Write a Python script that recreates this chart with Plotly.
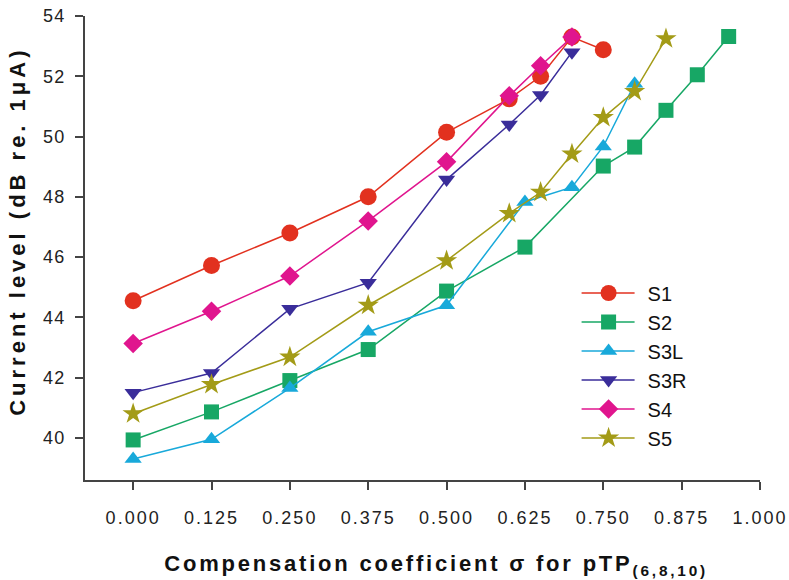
import plotly.graph_objects as go

# ---- data ----
s1_x = [0.0, 0.125, 0.25, 0.375, 0.5, 0.6, 0.65, 0.7, 0.75]
s1_y = [44.55, 45.72, 46.8, 48.0, 50.14, 51.25, 52.0, 53.3, 52.88]

s2_x = [0.0, 0.125, 0.25, 0.375, 0.5, 0.625, 0.75, 0.8, 0.85, 0.9, 0.95]
s2_y = [39.93, 40.86, 41.9, 42.93, 44.87, 46.33, 49.02, 49.65, 50.87, 52.05, 53.32]

s3l_x = [0.0, 0.125, 0.25, 0.375, 0.5, 0.625, 0.7, 0.75, 0.8]
s3l_y = [39.3, 39.95, 41.65, 43.52, 44.4, 47.83, 48.32, 49.67, 51.75]

s3r_x = [0.0, 0.125, 0.25, 0.375, 0.5, 0.6, 0.65, 0.7]
s3r_y = [41.5, 42.15, 44.28, 45.15, 48.57, 50.4, 51.38, 52.8]

s4_x = [0.0, 0.125, 0.25, 0.375, 0.5, 0.6, 0.65, 0.7]
s4_y = [43.13, 44.2, 45.37, 47.2, 49.16, 51.35, 52.35, 53.3]

s5_x = [0.0, 0.125, 0.25, 0.375, 0.5, 0.6, 0.65, 0.7, 0.75, 0.8, 0.85]
s5_y = [40.8, 41.77, 42.68, 44.4, 45.88, 47.45, 48.15, 49.42, 50.63, 51.5, 53.25]

x_ticks = [0.0, 0.125, 0.25, 0.375, 0.5, 0.625, 0.75, 0.875, 1.0]
x_tick_labels = ["0.000", "0.125", "0.250", "0.375", "0.500", "0.625", "0.750", "0.875", "1.000"]
y_ticks = [40, 42, 44, 46, 48, 50, 52, 54]

series = [
    ("S1", s1_x, s1_y, "#E2311F", "circle", 17),
    ("S2", s2_x, s2_y, "#17A765", "square", 15),
    ("S3L", s3l_x, s3l_y, "#18A9DA", "triangle-up", 15),
    ("S3R", s3r_x, s3r_y, "#3A2D9A", "triangle-down", 15),
    ("S4", s4_x, s4_y, "#E0158E", "diamond", 15),
    ("S5", s5_x, s5_y, "#A39B17", "star", 16),
]

FONT = "Arial, Liberation Sans, Helvetica, sans-serif"

fig = go.Figure()
for name, xs, ys, col, sym, sz in series:
    fig.add_trace(go.Scatter(
        x=xs, y=ys, name=name, mode="lines+markers",
        line=dict(color=col, width=1.5),
        marker=dict(symbol=sym, size=sz, color=col, line=dict(width=0)),
        cliponaxis=False,
    ))

fig.update_layout(
    width=789, height=580,
    margin=dict(l=85, r=27, t=6, b=100),
    paper_bgcolor="white", plot_bgcolor="white",
    font=dict(family=FONT, color="#222222", size=18),
    showlegend=True,
    legend=dict(x=0.7179, y=0.445, xanchor="left", yanchor="top",
                font=dict(size=20, color="#111111", family=FONT),
                bgcolor="rgba(0,0,0,0)", itemwidth=68),
    xaxis=dict(range=[-0.0768, 1.0], tickvals=x_ticks, ticktext=x_tick_labels,
               showgrid=False, zeroline=False, showline=True, linecolor="#444444",
               linewidth=2, ticks="outside", ticklen=8, tickwidth=1.5, tickcolor="#444444",
               tickfont=dict(size=18, color="#222222"), ticklabelstandoff=12,
               ticklabeloverflow="allow"),
    yaxis=dict(range=[38.6, 54.0005], tickvals=y_ticks,
               showgrid=False, zeroline=False, showline=True, linecolor="#444444",
               linewidth=2, ticks="outside", ticklen=8, tickwidth=1.5, tickcolor="#444444",
               tickfont=dict(size=18, color="#222222"), ticklabelstandoff=6,
               ticklabeloverflow="allow"),
    annotations=[
        dict(text="<b>Compensation coefficient σ for pTP<sub>(6,8,10)</sub></b>",
             xref="paper", yref="paper", x=0.52, y=-0.184, xanchor="center", yanchor="middle",
             showarrow=False, font=dict(size=22, color="#111111", family=FONT)),
        dict(text="<b>Current level (dB re. 1μA)</b>",
             xref="paper", yref="paper", x=-0.1, y=0.536, xanchor="center", yanchor="middle",
             textangle=-90, showarrow=False, font=dict(size=22, color="#111111", family=FONT)),
    ],
)

post = """
document.body.style.margin = '0';
var gd = document.getElementById('{plot_id}');
var ann = gd.querySelectorAll('.annotation-text');
if (ann.length > 0) { ann[0].style.letterSpacing = '2.8px'; }
if (ann.length > 1) { ann[1].style.letterSpacing = '4px'; }
gd.querySelectorAll('.xtick text').forEach(function(t){ t.style.letterSpacing = '2px'; });
gd.querySelectorAll('.ytick text').forEach(function(t){ t.style.letterSpacing = '1.2px'; });
gd.querySelectorAll('.legendlines path').forEach(function(p){ p.setAttribute('d', 'M12,0h53'); });
"""

fig.write_html("out.html", post_script=post, config={"displayModeBar": False})
